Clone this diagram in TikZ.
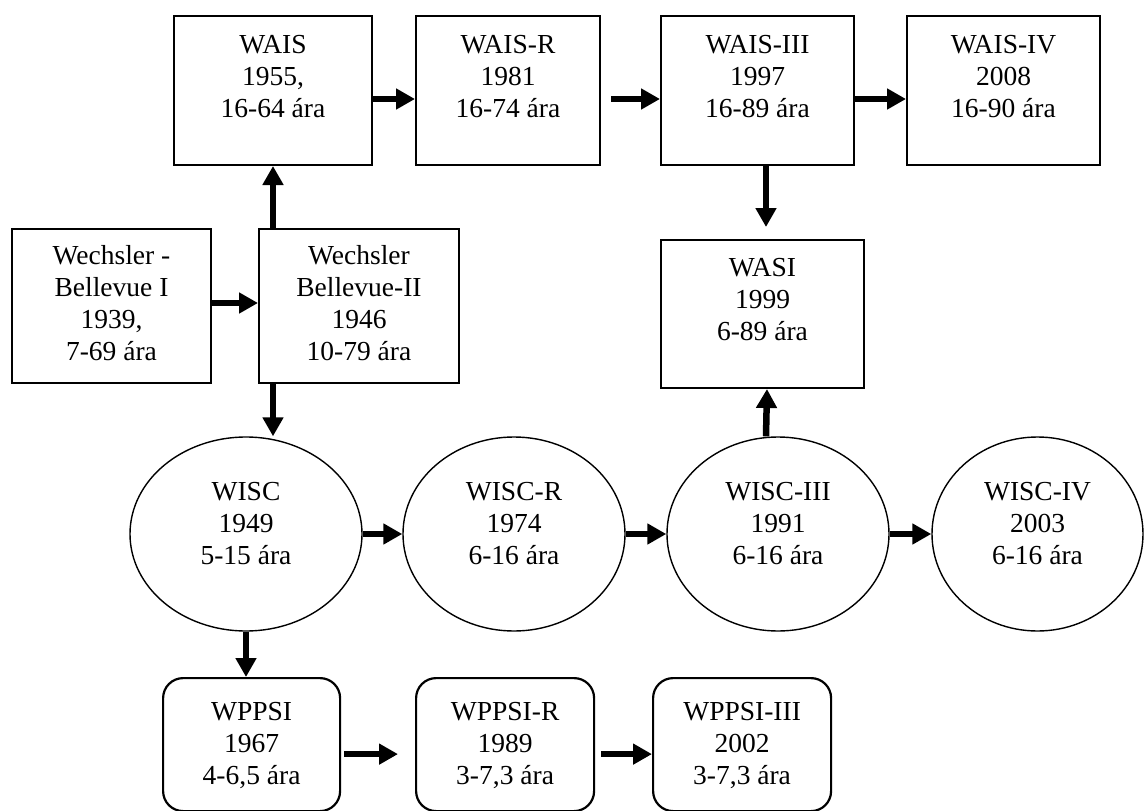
\documentclass[tikz,border=0pt]{standalone}
\usepackage{fontspec}
\setmainfont{Liberation Serif}
\usetikzlibrary{shapes.geometric,arrows.meta}

\begin{document}
\begin{tikzpicture}[x=1pt,y=-1pt,
    font=\fontsize{27.5}{32}\selectfont,
    sqbox/.style={draw, line width=2pt, inner sep=0pt, align=center, anchor=north west},
    ovalnode/.style={ellipse, draw, line width=1.4pt, inner sep=0pt, align=center, minimum height=194pt, text height=80pt, text depth=20pt},
    rndbox/.style={draw, rounded corners=20pt, line width=2.2pt, inner sep=0pt, align=center, anchor=north west, text height=106pt, text depth=27pt},
    arr/.style={line width=6.5pt, -{Triangle[length=19pt,width=20pt]}}]
  \useasboundingbox (0,0) rectangle (1144,811);

  \node[sqbox, minimum width=198pt, text height=101pt, text depth=48pt] (wais) at (173,15) {WAIS\\1955,\\16-64 ára};
  \node[sqbox, minimum width=184pt, text height=101pt, text depth=48pt] (waisR) at (415,15) {WAIS-R\\1981\\16-74 ára};
  \node[sqbox, minimum width=193pt, text height=101pt, text depth=48pt] (waisIII) at (660,15) {WAIS-III\\1997\\16-89 ára};
  \node[sqbox, minimum width=193pt, text height=101pt, text depth=48pt] (waisIV) at (906,15) {WAIS-IV\\2008\\16-90 ára};

  \node[sqbox, minimum width=199pt, text height=131pt, text depth=23pt] (wbI) at (11,228) {Wechsler -\\Bellevue I\\1939,\\7-69 ára};
  \node[sqbox, minimum width=200pt, text height=131pt, text depth=23pt] (wbII) at (258,228) {Wechsler\\Bellevue-II\\1946\\10-79 ára};
  \node[sqbox, minimum width=203pt, text height=100pt, text depth=48pt] (wasi) at (660,239) {WASI\\1999\\6-89 ára};

  \node[ovalnode, minimum width=232pt] (wisc) at (246,534) {WISC\\1949\\5-15 ára};
  \node[ovalnode, minimum width=222pt] (wiscR) at (514,534) {WISC-R\\1974\\6-16 ára};
  \node[ovalnode, minimum width=222pt] (wiscIII) at (778,534) {WISC-III\\1991\\6-16 ára};
  \node[ovalnode, minimum width=211pt] (wiscIV) at (1037.5,534) {WISC-IV\\2003\\6-16 ára};

  \node[rndbox, minimum width=177pt] (wppsi) at (162,677) {WPPSI\\1967\\4-6,5 ára};
  \node[rndbox, minimum width=178pt] (wppsiR) at (415,677) {WPPSI-R\\1989\\3-7,3 ára};
  \node[rndbox, minimum width=178pt] (wppsiIII) at (652,677) {WPPSI-III\\2002\\3-7,3 ára};

  \draw[arr] ([yshift=3pt]wbI.east) -- ([yshift=3pt]wbII.west);
  \draw[arr] (wais.south |- wbII.north) -- (wais.south);
  \draw[arr] (wbII.south -| wais.south) -- (wisc.north -| wais.south);
  \draw[arr] ([yshift=-8.5pt]wais.east) -- ([yshift=-8.5pt]waisR.west);
  \draw[arr] ([xshift=10pt,yshift=-8.5pt]waisR.east) -- ([yshift=-8.5pt]waisIII.west);
  \draw[arr] ([yshift=-8.5pt]waisIII.east) -- ([yshift=-8.5pt]waisIV.west);
  \draw[arr] ([xshift=8.5pt]waisIII.south) -- ([xshift=3.5pt,yshift=12pt]wasi.north);
  \draw[arr] ([xshift=-12pt]wiscIII.north) -- ([xshift=4.5pt]wasi.south);
  \draw[arr] (wisc.east) -- (wiscR.west);
  \draw[arr] (wiscR.east) -- (wiscIII.west);
  \draw[arr] (wiscIII.east) -- (wiscIV.west);
  \draw[arr] (wisc.south) -- (wppsi.north -| wisc.south);
  \draw[arr] ([xshift=3pt,yshift=-9.5pt]wppsi.east) -- ([xshift=-17pt,yshift=-9.5pt]wppsiR.west);
  \draw[arr] ([xshift=6pt,yshift=-9.5pt]wppsiR.east) -- ([yshift=-9.5pt]wppsiIII.west);
\end{tikzpicture}
\end{document}
